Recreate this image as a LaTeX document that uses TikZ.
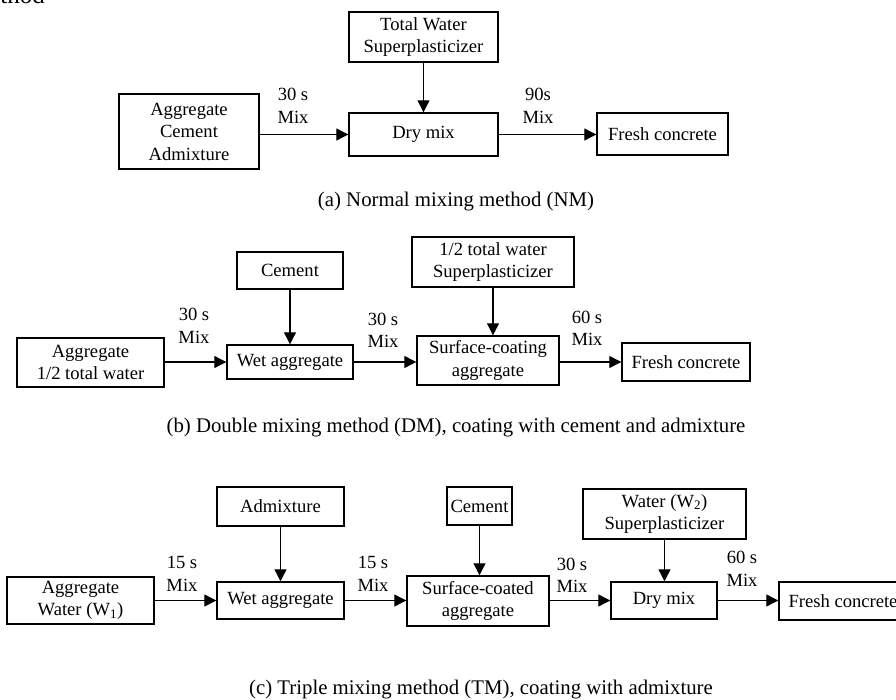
\documentclass[tikz,border=0pt]{standalone}
\usepackage{fontspec}
\setmainfont{Liberation Serif}
\usetikzlibrary{arrows.meta}
\tikzset{
  box/.style={draw, line width=1.4pt, inner sep=0pt, align=center,
    font=\fontsize{18.6}{22.5}\selectfont},
  lbl/.style={inner sep=0pt, align=center, font=\fontsize{18.6}{22.5}\selectfont},
  captext/.style={inner sep=0pt, font=\fontsize{20.8}{25}\selectfont},
  arr/.style={line width=1.1pt, -{Triangle[length=12pt,width=12pt]}}
}
\begin{document}
\begin{tikzpicture}[x=1pt,y=-1pt]
\useasboundingbox (0,0) rectangle (896,700);
% fragment at top left
\node[inner sep=0pt, font=\fontsize{25}{30}\selectfont, anchor=base east] (frag) at (45,4) {method};
% ---------------- (a)
\node[box, minimum width=149pt, minimum height=50pt] (tw) at (423.5,37) {Total Water\\Superplasticizer};
\node[box, minimum width=140pt, minimum height=75pt] (agga) at (189,131.5) {Aggregate\\Cement\\Admixture};
\node[box, minimum width=149pt, minimum height=43pt] (drya) at (423.5,134.5) {Dry mix};
\node[box, minimum width=131pt, minimum height=42pt] (fca) at (662.5,134) {Fresh concrete};
\draw[arr] (tw.south) -- (drya.north);
\draw[arr] (agga.east |- drya) -- (drya.west);
\draw[arr] (drya.east) -- (fca.west |- drya);
\node[lbl] (la1) at (293,106) {30 s\\Mix};
\node[lbl] (la2) at (538,106) {90s\\Mix};
\node[captext] (capa) at (456,202) {(a) Normal mixing method (NM)};
% ---------------- (b)
\node[box, minimum width=106pt, minimum height=37pt] (cemb) at (290,270.5) {Cement};
\node[box, minimum width=147pt, minimum height=49pt] (aggb) at (90.5,362.5) {Aggregate\\1/2 total water};
\node[box, minimum width=126pt, minimum height=34pt] (wetb) at (290,362) {Wet aggregate};
\node[box, minimum width=162pt, minimum height=50pt] (halfb) at (493,262) {1/2 total water\\Superplasticizer};
\node[box, minimum width=142pt, minimum height=49pt] (surfb) at (488,360.5) {Surface-coating\\aggregate};
\node[box, minimum width=128pt, minimum height=38pt] (fcb) at (686,362) {Fresh concrete};
\draw[arr] (cemb.south) -- (cemb.south |- wetb.north);
\draw[arr] (halfb.south) -- (halfb.south |- surfb.north);
\draw[arr] (aggb.east |- wetb) -- (wetb.west);
\draw[arr] (wetb.east) -- (surfb.west |- wetb);
\draw[arr] (surfb.east |- fcb) -- (fcb.west);
\node[lbl] (lb1) at (194,326) {30 s\\Mix};
\node[lbl] (lb2) at (383,330.5) {30 s\\Mix};
\node[lbl] (lb3) at (587,328.5) {60 s\\Mix};
\node[captext] (capb) at (456,428) {(b) Double mixing method (DM), coating with cement and admixture};
% ---------------- (c)
\node[box, minimum width=127pt, minimum height=39pt] (admc) at (280.5,506.5) {Admixture};
\node[box, minimum width=147pt, minimum height=47pt] (aggc) at (80.5,600.5) {Aggregate\\Water (W\textsubscript{1})};
\node[box, minimum width=127pt, minimum height=37pt] (wetc) at (280.5,600.5) {Wet aggregate};
\node[box, minimum width=142pt, minimum height=50pt] (surfc) at (478,601) {Surface-coated\\aggregate};
\node[box, minimum width=65pt, minimum height=38pt] (cemc) at (479.5,506) {Cement};
\node[box, minimum width=163pt, minimum height=50pt] (w2c) at (664.5,514) {Water (W\textsubscript{2})\\Superplasticizer};
\node[box, minimum width=106pt, minimum height=37pt] (dryc) at (664,600.5) {Dry mix};
\node[box, minimum width=128pt, minimum height=38pt] (fcc) at (843,601) {Fresh concrete};
\draw[arr] (admc.south) -- (admc.south |- wetc.north);
\draw[arr] (cemc.south) -- (cemc.south |- surfc.north);
\draw[arr] (w2c.south) -- (w2c.south |- dryc.north);
\draw[arr] (aggc.east |- wetc) -- (wetc.west);
\draw[arr] (wetc.east) -- (surfc.west |- wetc);
\draw[arr] (surfc.east |- dryc) -- (dryc.west);
\draw[arr] (dryc.east) -- (fcc.west |- dryc);
\node[lbl] (lc1) at (182,574) {15 s\\Mix};
\node[lbl] (lc2) at (373,574) {15 s\\Mix};
\node[lbl] (lc3) at (572,575.5) {30 s\\Mix};
\node[lbl] (lc4) at (742,569) {60 s\\Mix};
\node[captext] (capc) at (481,690) {(c) Triple mixing method (TM), coating with admixture};
\end{tikzpicture}
\end{document}
